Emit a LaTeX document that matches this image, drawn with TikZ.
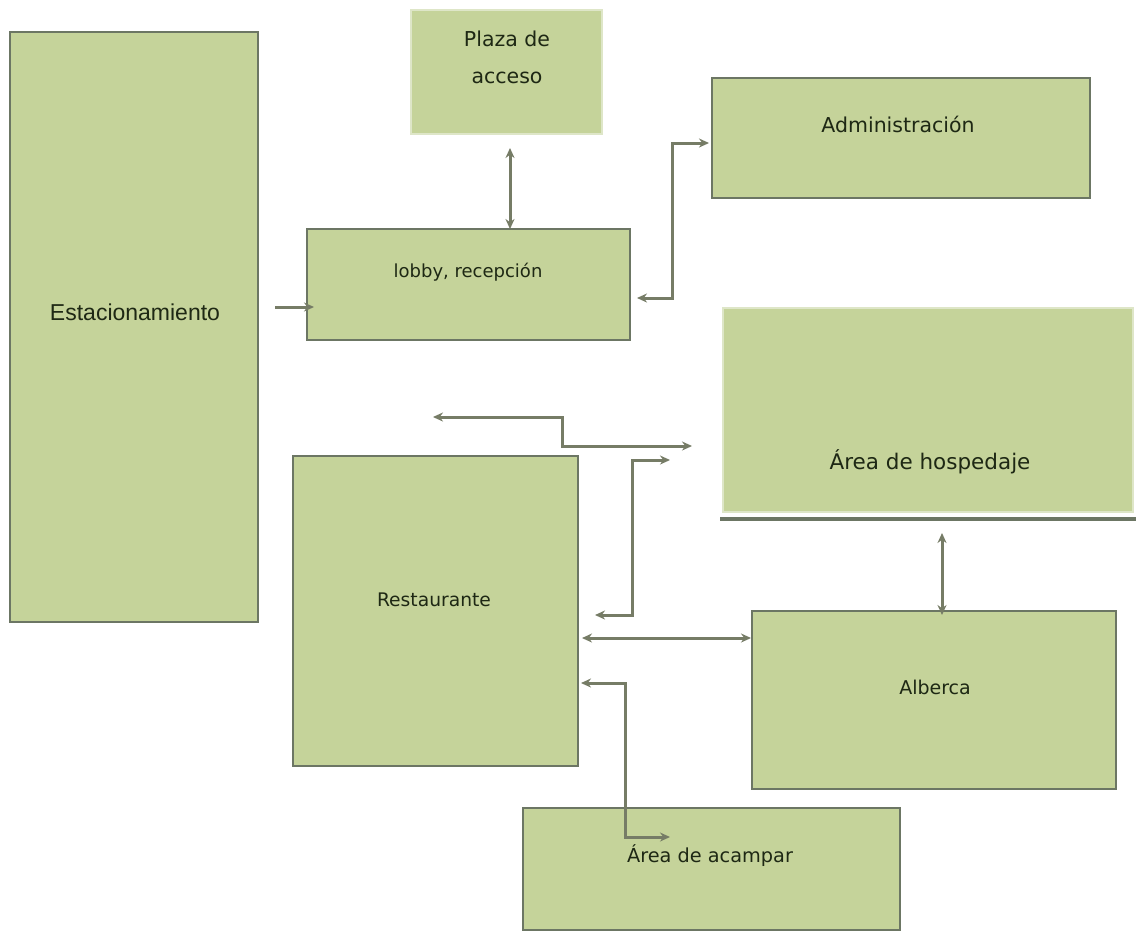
\documentclass[tikz,border=0pt]{standalone}
\usepackage{fontspec}
\setmainfont{DejaVu Sans}
\newfontfamily\arialf{Liberation Sans}
\usetikzlibrary{arrows.meta}
\definecolor{boxfill}{RGB}{197,211,154}
\definecolor{boxline}{RGB}{108,118,100}
\definecolor{lightline}{RGB}{222,230,200}
\definecolor{arrcol}{RGB}{118,124,102}
\definecolor{txt}{RGB}{30,40,20}
\tikzset{
  box/.style={draw=boxline, line width=2.2pt, fill=boxfill, inner sep=0pt, outer sep=0pt, anchor=north west},
  softbox/.style={draw=lightline, line width=2pt, fill=boxfill, inner sep=0pt, outer sep=0pt, anchor=north west},
  lbl/.style={text=txt, inner sep=0pt, align=center},
  arr/.style={draw=arrcol, line width=3pt, {Stealth[length=10pt,width=9pt]}-{Stealth[length=10pt,width=9pt]}},
  arrone/.style={draw=arrcol, line width=3pt, -{Stealth[length=10pt,width=9pt]}},
}
\begin{document}
\begin{tikzpicture}[x=1pt,y=-1pt]
\useasboundingbox (0,0) rectangle (1139,930);
\fill[white] (0,0) rectangle (1139,930);
% boxes
\node[box, minimum width=248pt, minimum height=590pt] (est) at (10,32) {};
\node[softbox, minimum width=191pt, minimum height=124pt] (plaza) at (411,10) {};
\node[box, minimum width=378pt, minimum height=120pt] (adm) at (712,78) {};
\node[box, minimum width=323pt, minimum height=111pt] (lobby) at (307,229) {};
\node[softbox, minimum width=410pt, minimum height=204pt] (hosp) at (723,308) {};
\coordinate (hs1) at (720,519);
\coordinate (hs2) at (1136,519);
\draw[draw=boxline, line width=3.5pt] (hs1) -- (hs2);
\node[box, minimum width=285pt, minimum height=310pt] (rest) at (293,456) {};
\node[box, minimum width=364pt, minimum height=178pt] (alb) at (752,611) {};
\node[box, minimum width=377pt, minimum height=122pt] (acam) at (523,808) {};
% labels
\node[lbl, font=\arialf\fontsize{23}{26}\selectfont] (estl) at (135,312) {Estacionamiento};
\node[lbl, font=\fontsize{20.5}{37}\selectfont] (plazal) at (507,57) {Plaza de\\acceso};
\node[lbl, font=\fontsize{20.5}{24}\selectfont] (adml) at (898,124) {Administración};
\node[lbl, font=\fontsize{18}{22}\selectfont] (lobbyl) at (468,272) {lobby, recepción};
\node[lbl, font=\fontsize{21.5}{25}\selectfont] (hospl) at (930,462) {Área de hospedaje};
\node[lbl, font=\fontsize{18.7}{22}\selectfont] (restl) at (434,600) {Restaurante};
\node[lbl, font=\fontsize{19}{22}\selectfont] (albl) at (935,687) {Alberca};
\node[lbl, font=\fontsize{19.3}{22}\selectfont] (acaml) at (710,856) {Área de acampar};
% connector points
\coordinate (e1) at (275,307);
\coordinate (e2) at (314,307);
\coordinate (p1) at (510,148);
\coordinate (l1) at (637,298);
\coordinate (l2) at (672,298);
\coordinate (l3) at (672,143);
\coordinate (m1) at (433,417);
\coordinate (m2) at (562,417);
\coordinate (m3) at (562,446);
\coordinate (m4) at (692,446);
\coordinate (r1) at (595,615);
\coordinate (r2) at (632,615);
\coordinate (r3) at (632,460);
\coordinate (r4) at (670,460);
\coordinate (ra) at (582,638);
\coordinate (h1) at (942,533);
\coordinate (c1) at (581,683);
\coordinate (c2) at (625,683);
\coordinate (c3) at (625,837);
\coordinate (c4) at (670,837);
% connectors
\draw[arrone] (e1) -- (e2);
\draw[arr] (p1) -- (p1 |- lobby.north);
\draw[arr, shorten >=3pt] (l1) -- (l2) -- (l3) -- (l3 -| adm.west);
\draw[arr] (m1) -- (m2) -- (m3) -- (m4);
\draw[arr] (r1) -- (r2) -- (r3) -- (r4);
\draw[arr, shorten >=1pt] (ra) -- (ra -| alb.west);
\draw[arr, shorten >=-4pt] (h1) -- (h1 |- alb.north);
\draw[arr] (c1) -- (c2) -- (c3) -- (c4);
\end{tikzpicture}
\end{document}
